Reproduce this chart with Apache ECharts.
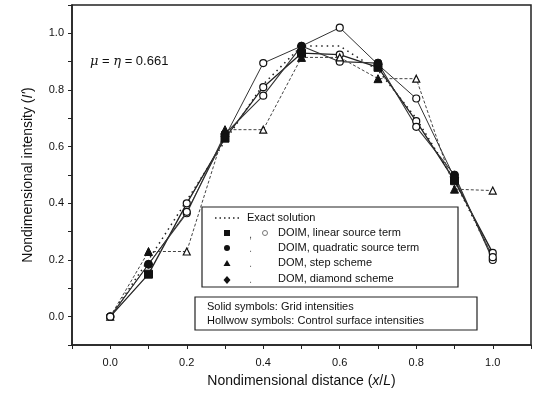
<!DOCTYPE html>
<html>
<head>
<meta charset="utf-8">
<script src="https://cdn.jsdelivr.net/npm/echarts@6/dist/echarts.min.js"></script>
<style>html,body{margin:0;padding:0;background:#fff}#c{width:534px;height:400px}</style>
</head>
<body>
<div id="c"></div>
<script>
var xs = [0, 0.1, 0.2, 0.3, 0.4, 0.5, 0.6, 0.7, 0.8, 0.9, 1.0];
var exact = [0, 0.20, 0.41, 0.62, 0.82, 0.955, 0.955, 0.87, 0.70, 0.48, 0.21];
var linear = [0, 0.15, 0.40, 0.63, 0.81, 0.93, 0.925, 0.88, 0.69, 0.48, 0.225];
var quadratic = [0, 0.185, 0.365, 0.645, 0.78, 0.955, 0.90, 0.895, 0.67, 0.50, 0.20];
var step = [0, 0.23, 0.23, 0.66, 0.66, 0.915, 0.915, 0.84, 0.84, 0.45, 0.445];
var diamond = [0, 0.185, 0.37, 0.635, 0.895, 0.955, 1.02, 0.89, 0.77, 0.49, 0.21];
var xTickLabels = ['0.0', '0.2', '0.4', '0.6', '0.8', '1.0'];
var yTickLabels = ['0.0', '0.2', '0.4', '0.6', '0.8', '1.0'];

var FONT = 'Liberation Sans, Arial, sans-serif';

function pts(vals, solidSym, hollowSym) {
  return xs.map(function (x, i) {
    var grid = i % 2 === 1;
    return {
      value: [x, vals[i]],
      symbol: grid ? solidSym : hollowSym,
      symbolSize: grid ? 8 : 7,
      itemStyle: grid ? { color: '#111', borderColor: '#111', borderWidth: 1 }
                      : { color: '#fff', borderColor: '#111', borderWidth: 1.2 }
    };
  });
}

function fmt(list) {
  return function (v) {
    var k = Math.round(v * 10);
    if (k % 2 !== 0) return '';
    var s = (k / 10).toFixed(1);
    return list.indexOf(s) >= 0 ? s : '';
  };
}

var chart = echarts.init(document.getElementById('c'), null, { renderer: 'canvas' });
chart.setOption({
  animation: false,
  backgroundColor: '#fff',
  grid: { left: 72, right: 2, top: 5, bottom: 55, show: true, borderColor: '#222', borderWidth: 1.5 },
  xAxis: {
    type: 'value', min: -0.1, max: 1.1, interval: 0.1,
    name: '{n|Nondimensional distance (}{i|x}{n|/}{i|L}{n|)}',
    nameLocation: 'middle', nameGap: 29,
    nameTextStyle: { rich: { n: { fontFamily: FONT, fontSize: 14, color: '#111' }, i: { fontFamily: FONT, fontSize: 14, fontStyle: 'italic', color: '#111' } } },
    axisLine: { show: true, onZero: false, lineStyle: { color: '#222', width: 1.5 } },
    axisTick: { show: true, inside: false, length: 4, lineStyle: { color: '#222' } },
    axisLabel: { formatter: fmt(xTickLabels), fontFamily: FONT, fontSize: 11, color: '#111', margin: 12 },
    splitLine: { show: false }
  },
  yAxis: {
    type: 'value', min: -0.1, max: 1.1, interval: 0.1,
    name: '{n|Nondimensional intensity (}{i|I\'}{n|)}',
    nameLocation: 'middle', nameGap: 37,
    nameTextStyle: { rich: { n: { fontFamily: FONT, fontSize: 14, color: '#111' }, i: { fontFamily: FONT, fontSize: 14, fontStyle: 'italic', color: '#111' } } },
    axisLine: { show: true, onZero: false, lineStyle: { color: '#222', width: 1.5 } },
    axisTick: { show: true, inside: false, length: 4, lineStyle: { color: '#222' } },
    axisLabel: { formatter: fmt(yTickLabels), fontFamily: FONT, fontSize: 11, color: '#111', margin: 8 },
    splitLine: { show: false }
  },
  series: [
    { name: 'Exact solution', type: 'line', data: xs.map(function (x, i) { return [x, exact[i]]; }),
      showSymbol: false, symbol: 'none', lineStyle: { color: '#222', width: 1.5, type: [1.5, 4] }, z: 2 },
    { name: 'DOIM, linear source term', type: 'line', data: pts(linear, 'rect', 'circle'),
      lineStyle: { color: '#222', width: 1.3 }, z: 3 },
    { name: 'DOIM, quadratic source term', type: 'line', data: pts(quadratic, 'circle', 'circle'),
      lineStyle: { color: '#333', width: 1.1 }, z: 3 },
    { name: 'DOM, step scheme', type: 'line', data: pts(step, 'triangle', 'triangle'),
      lineStyle: { color: '#444', width: 1, type: [3, 2] }, z: 3 },
    { name: 'DOM, diamond scheme', type: 'line', data: pts(diamond, 'diamond', 'circle'),
      lineStyle: { color: '#333', width: 1 }, z: 3 }
  ],
  graphic: [
    { type: 'text', left: 90, top: 55, style: { text: '{i|\u03bc} = {i|\u03b7} = 0.661', fontFamily: FONT, fontSize: 13, fill: '#111',
      rich: { i: { fontStyle: 'italic', fontFamily: 'DejaVu Serif, serif', fontSize: 13 } } } },
    { type: 'rect', shape: { x: 202, y: 207, width: 256, height: 80 }, style: { fill: '#fff', stroke: '#222', lineWidth: 1.2 }, z: 10 },
    { type: 'line', shape: { x1: 215, y1: 218, x2: 240, y2: 218 }, style: { stroke: '#222', lineWidth: 1.5, lineDash: [1.5, 3] }, z: 11 },
    { type: 'text', x: 247, y: 218, style: { text: 'Exact solution', fontFamily: FONT, fontSize: 11, fill: '#111', verticalAlign: 'middle' }, z: 11 },
    { type: 'rect', shape: { x: 224, y: 230, width: 6, height: 6 }, style: { fill: '#111' }, z: 11 },
    { type: 'text', x: 249, y: 235, style: { text: ',', fontFamily: FONT, fontSize: 11, fill: '#555', verticalAlign: 'middle' }, z: 11 },
    { type: 'circle', shape: { cx: 265, cy: 233, r: 2.5 }, style: { fill: '#fff', stroke: '#777', lineWidth: 1 }, z: 11 },
    { type: 'text', x: 278, y: 233, style: { text: 'DOIM, linear source term', fontFamily: FONT, fontSize: 11, fill: '#111', verticalAlign: 'middle' }, z: 11 },
    { type: 'circle', shape: { cx: 227, cy: 248, r: 3 }, style: { fill: '#111' }, z: 11 },
    { type: 'text', x: 249, y: 249, style: { text: '.', fontFamily: FONT, fontSize: 11, fill: '#777', verticalAlign: 'middle' }, z: 11 },
    { type: 'text', x: 278, y: 248, style: { text: 'DOIM, quadratic source term', fontFamily: FONT, fontSize: 11, fill: '#111', verticalAlign: 'middle' }, z: 11 },
    { type: 'polygon', shape: { points: [[227, 260], [230.5, 266], [223.5, 266]] }, style: { fill: '#111' }, z: 11 },
    { type: 'text', x: 249, y: 264, style: { text: '.', fontFamily: FONT, fontSize: 11, fill: '#777', verticalAlign: 'middle' }, z: 11 },
    { type: 'text', x: 278, y: 263, style: { text: 'DOM, step scheme', fontFamily: FONT, fontSize: 11, fill: '#111', verticalAlign: 'middle' }, z: 11 },
    { type: 'polygon', shape: { points: [[227, 276], [230.5, 280], [227, 284], [223.5, 280]] }, style: { fill: '#111' }, z: 11 },
    { type: 'text', x: 249, y: 280, style: { text: '.', fontFamily: FONT, fontSize: 11, fill: '#777', verticalAlign: 'middle' }, z: 11 },
    { type: 'text', x: 278, y: 279, style: { text: 'DOM, diamond scheme', fontFamily: FONT, fontSize: 11, fill: '#111', verticalAlign: 'middle' }, z: 11 },
    { type: 'rect', shape: { x: 195, y: 297, width: 282, height: 33 }, style: { fill: '#fff', stroke: '#222', lineWidth: 1.2 }, z: 10 },
    { type: 'text', x: 207, y: 307, style: { text: 'Solid symbols: Grid intensities', fontFamily: FONT, fontSize: 11, fill: '#111', verticalAlign: 'middle' }, z: 11 },
    { type: 'text', x: 207, y: 321, style: { text: 'Hollwow symbols: Control surface intensities', fontFamily: FONT, fontSize: 11, fill: '#111', verticalAlign: 'middle' }, z: 11 }
  ]
});
</script>
</body>
</html>
